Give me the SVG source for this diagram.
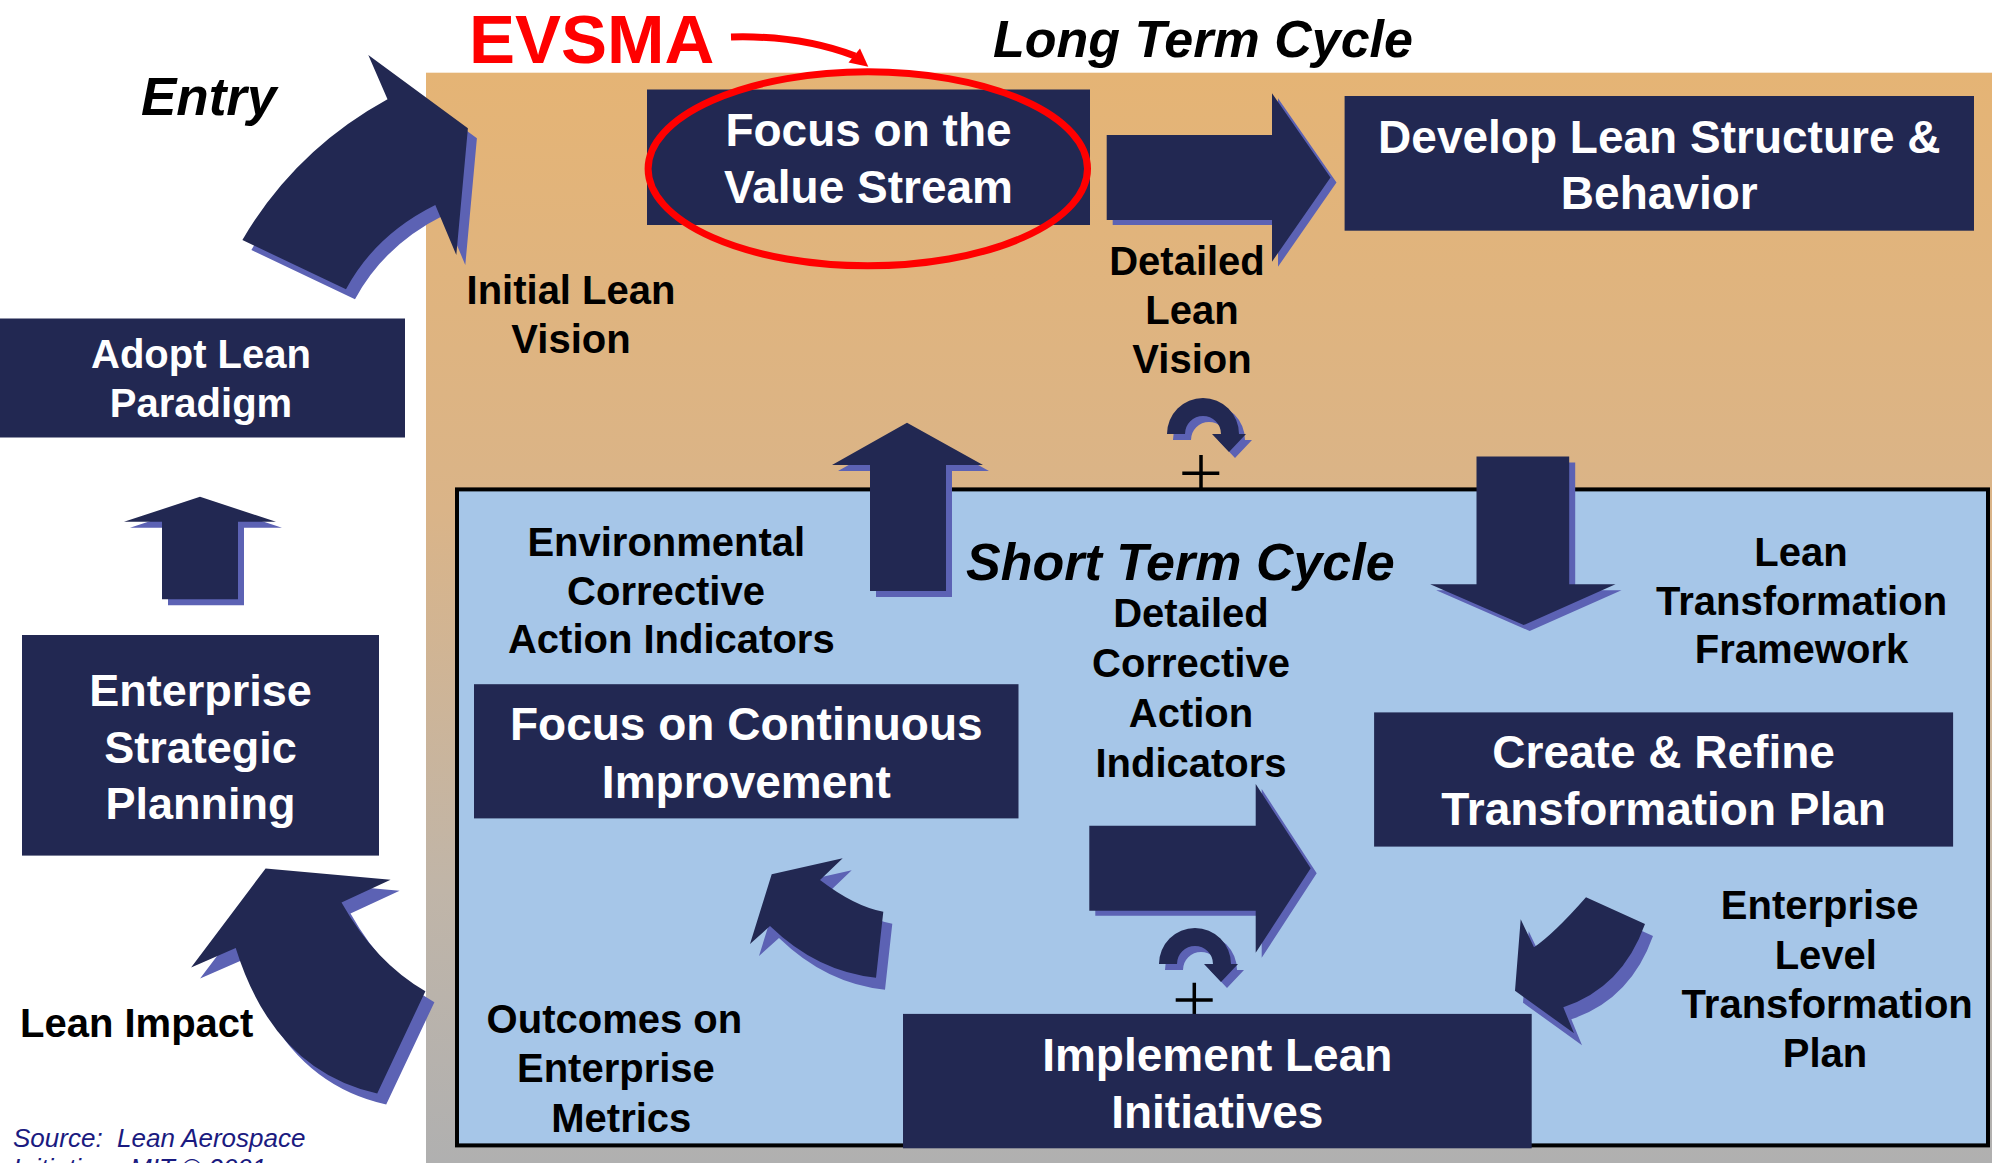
<svg xmlns="http://www.w3.org/2000/svg" width="1992" height="1163" viewBox="0 0 1992 1163">
<defs>
<linearGradient id="bg" x1="0" y1="0" x2="0" y2="1">
<stop offset="0" stop-color="#e5b475"/>
<stop offset="0.4" stop-color="#dab488"/>
<stop offset="0.75" stop-color="#c0b5a8"/>
<stop offset="1" stop-color="#b0b0b0"/>
</linearGradient>
<path id="circ" d="M-36,0 A36,36 0 0 1 36,0 L43,0 L26,18 L9,0 L18,0 A18,18 0 0 0 -18,0 Z"/>
</defs>
<style>
.box{fill:#222852}
.sh{fill:#5c62b4}
.ar{fill:#222852}
.w{fill:#ffffff;font-family:"Liberation Sans",Arial,sans-serif;font-weight:bold;text-anchor:middle}
.k{fill:#000000;font-family:"Liberation Sans",Arial,sans-serif;font-weight:bold;text-anchor:middle;font-size:40px}
.ti{fill:#000000;font-family:"Liberation Sans",Arial,sans-serif;font-weight:bold;font-style:italic;font-size:52px}
.src{fill:#1a1a80;font-family:"Liberation Sans",Arial,sans-serif;font-style:italic;font-size:26px;white-space:pre}
.plus{stroke:#000000;stroke-width:3.5;fill:none}
</style>
<rect x="0" y="0" width="1992" height="1163" fill="#ffffff"/>
<rect x="426" y="72.7" width="1566" height="1090.3" fill="url(#bg)"/>
<g id="short-term-cycle">
<rect x="457" y="489.4" width="1531" height="656" fill="#a6c6e8" stroke="#000000" stroke-width="4"/>
</g>
<g id="labels">
<text class="ti" x="141" y="115" style="font-size:53px">Entry</text>
<text x="469" y="62.7" fill="#ff0000" font-family="Liberation Sans, Arial, sans-serif" font-weight="bold" font-size="69">EVSMA</text>
<text class="ti" x="993" y="57.3">Long Term Cycle</text>
<text class="ti" x="966" y="579.6">Short Term Cycle</text>
<text class="k" x="571" y="304.3">Initial Lean</text>
<text class="k" x="571" y="353.3">Vision</text>
<text class="k" x="1187" y="275">Detailed</text>
<text class="k" x="1192" y="324">Lean</text>
<text class="k" x="1192" y="373.3">Vision</text>
<text class="k" x="20" y="1036.6" style="text-anchor:start">Lean Impact</text>
<text class="k" x="666.3" y="555.5">Environmental</text>
<text class="k" x="666" y="604.6">Corrective</text>
<text class="k" x="671.3" y="653.3">Action Indicators</text>
<text class="k" x="1191" y="627.4">Detailed</text>
<text class="k" x="1191" y="677.4">Corrective</text>
<text class="k" x="1191" y="727.4">Action</text>
<text class="k" x="1191" y="776.5">Indicators</text>
<text class="k" x="1801" y="566">Lean</text>
<text class="k" x="1801.5" y="614.6">Transformation</text>
<text class="k" x="1801.5" y="662.8">Framework</text>
<text class="k" x="1819.7" y="919.3">Enterprise</text>
<text class="k" x="1825.8" y="969.3">Level</text>
<text class="k" x="1827.2" y="1018.3">Transformation</text>
<text class="k" x="1825" y="1067.3">Plan</text>
<text class="k" x="614.4" y="1033.4">Outcomes on</text>
<text class="k" x="615.9" y="1082.1">Enterprise</text>
<text class="k" x="621.3" y="1132.1">Metrics</text>
<text class="src" x="13" y="1146.7" xml:space="preserve">Source:  Lean Aerospace</text>
<text class="src" x="13" y="1177" xml:space="preserve">Initiative,  MIT © 2001</text>
</g>
<g id="connectors">
<g id="arrow-entry">
<path class="sh" transform="translate(9,10)" d="M242.4,240 Q295,150 387.5,99.3 L368.3,55 L467.9,128.3 L456.3,255 L435.3,205 Q375,235 346,289.3 Z"/>
<path class="ar" d="M242.4,240 Q295,150 387.5,99.3 L368.3,55 L467.9,128.3 L456.3,255 L435.3,205 Q375,235 346,289.3 Z"/>
</g>
<g id="arrow-lean-impact">
<path class="sh" transform="translate(9,11)" d="M377.2,1093.5 Q273.9,1070.6 235.7,948 L191.1,967.5 L265.6,868.4 L390.6,879.7 L341.5,902.5 Q375.5,962.7 425.4,991.2 Z"/>
<path class="ar" d="M377.2,1093.5 Q273.9,1070.6 235.7,948 L191.1,967.5 L265.6,868.4 L390.6,879.7 L341.5,902.5 Q375.5,962.7 425.4,991.2 Z"/>
</g>
<g id="arrow-adopt">
<polygon class="sh" transform="translate(6,6)" points="200,496.8 276,521.8 238,521.8 238,599.2 162,599.2 162,521.8 124,521.8"/>
<polygon class="ar" points="200,496.8 276,521.8 238,521.8 238,599.2 162,599.2 162,521.8 124,521.8"/>
</g>
<g id="arrow-env">
<polygon class="sh" transform="translate(6,6)" points="907,422.7 983,465 946,465 946,591 870,591 870,465 832,465"/>
<polygon class="ar" points="907,422.7 983,465 946,465 946,591 870,591 870,465 832,465"/>
</g>
<g id="arrow-down">
<polygon class="sh" transform="translate(6,6)" points="1476.5,456.4 1569.2,456.4 1569.2,584.2 1615.5,584.2 1523.7,625.1 1430.2,584.2 1476.5,584.2"/>
<polygon class="ar" points="1476.5,456.4 1569.2,456.4 1569.2,584.2 1615.5,584.2 1523.7,625.1 1430.2,584.2 1476.5,584.2"/>
</g>
<g id="arrow-detailed-lean">
<polygon class="sh" transform="translate(6,5)" points="1106.7,135 1272,135 1272,93.3 1330.5,177.5 1272,261.7 1272,220 1106.7,220"/>
<polygon class="ar" points="1106.7,135 1272,135 1272,93.3 1330.5,177.5 1272,261.7 1272,220 1106.7,220"/>
</g>
<g id="arrow-detailed-corrective">
<polygon class="sh" transform="translate(6,5)" points="1089.3,825.7 1255.7,825.7 1255.7,784 1310.7,868.3 1255.7,952.7 1255.7,910.7 1089.3,910.7"/>
<polygon class="ar" points="1089.3,825.7 1255.7,825.7 1255.7,784 1310.7,868.3 1255.7,952.7 1255.7,910.7 1089.3,910.7"/>
</g>
<g id="arrow-outcomes">
<path class="sh" transform="translate(9,12)" d="M876,977.7 Q817,971.6 770,926 L750,944 L771.7,874.3 L842.7,858.3 L820,880 Q855,906.7 883.3,911.7 Z"/>
<path class="ar" d="M876,977.7 Q817,971.6 770,926 L750,944 L771.7,874.3 L842.7,858.3 L820,880 Q855,906.7 883.3,911.7 Z"/>
</g>
<g id="arrow-enterprise-level">
<path class="sh" transform="translate(8,12)" d="M1586,897.3 L1645,924 Q1622.4,987.7 1563.3,1007.3 L1574,1033.3 L1515,990.7 L1520.7,919.3 L1534,947.3 Q1553.4,934.3 1586,897.3 Z"/>
<path class="ar" d="M1586,897.3 L1645,924 Q1622.4,987.7 1563.3,1007.3 L1574,1033.3 L1515,990.7 L1520.7,919.3 L1534,947.3 Q1553.4,934.3 1586,897.3 Z"/>
</g>
<g id="loop-long">
<use href="#circ" class="sh" transform="translate(1209,440)"/>
<use href="#circ" class="ar" transform="translate(1203,434)"/>
<path class="plus" d="M1201,455 V490 M1182.3,473.3 H1219.3"/>
</g>
<g id="loop-short">
<use href="#circ" class="sh" transform="translate(1201,970)"/>
<use href="#circ" class="ar" transform="translate(1195,964)"/>
<path class="plus" d="M1194.3,982.7 V1014 M1175.7,1000 H1212.7"/>
</g>
</g>
<g id="node-adopt">
<rect class="box" x="0" y="318.5" width="405" height="119"/>
<text class="w" x="201" y="368.3" font-size="40">Adopt Lean</text>
<text class="w" x="201" y="416.7" font-size="40">Paradigm</text>
</g>
<g id="node-enterprise-strategic">
<rect class="box" x="22" y="635" width="357" height="220.6"/>
<text class="w" x="200.5" y="706" font-size="45">Enterprise</text>
<text class="w" x="200.5" y="762.9" font-size="45">Strategic</text>
<text class="w" x="200.5" y="819.3" font-size="45">Planning</text>
</g>
<g id="node-focus-value-stream">
<rect class="box" x="647" y="89.5" width="443" height="135.5"/>
<text class="w" x="868.5" y="146" font-size="46">Focus on the</text>
<text class="w" x="868.5" y="202.7" font-size="46">Value Stream</text>
</g>
<g id="node-develop">
<rect class="box" x="1344.6" y="96" width="629.4" height="134.7"/>
<text class="w" x="1659.3" y="152.7" font-size="46">Develop Lean Structure &amp;</text>
<text class="w" x="1659.3" y="209.3" font-size="46">Behavior</text>
</g>
<g id="node-continuous">
<rect class="box" x="474" y="684.2" width="544.5" height="134.2"/>
<text class="w" x="746.3" y="740.1" font-size="46">Focus on Continuous</text>
<text class="w" x="746.3" y="797.9" font-size="46">Improvement</text>
</g>
<g id="node-create-refine">
<rect class="box" x="1374.1" y="712.4" width="579" height="134.2"/>
<text class="w" x="1663.6" y="768.3" font-size="46">Create &amp; Refine</text>
<text class="w" x="1663.6" y="825.2" font-size="46">Transformation Plan</text>
</g>
<g id="node-implement">
<rect class="box" x="903" y="1013.9" width="628.7" height="134.4"/>
<text class="w" x="1217.3" y="1070.7" font-size="46">Implement Lean</text>
<text class="w" x="1217.3" y="1127.6" font-size="46">Initiatives</text>
</g>
<g id="evsma-highlight">
<ellipse cx="867.8" cy="168.8" rx="219.7" ry="97" fill="none" stroke="#ff0000" stroke-width="7"/>
<path d="M731,37 Q800,35 855,56" fill="none" stroke="#ff0000" stroke-width="7"/>
<polygon points="868.3,66.7 860,48.5 848.5,62.5" fill="#ff0000"/>
</g>
</svg>
